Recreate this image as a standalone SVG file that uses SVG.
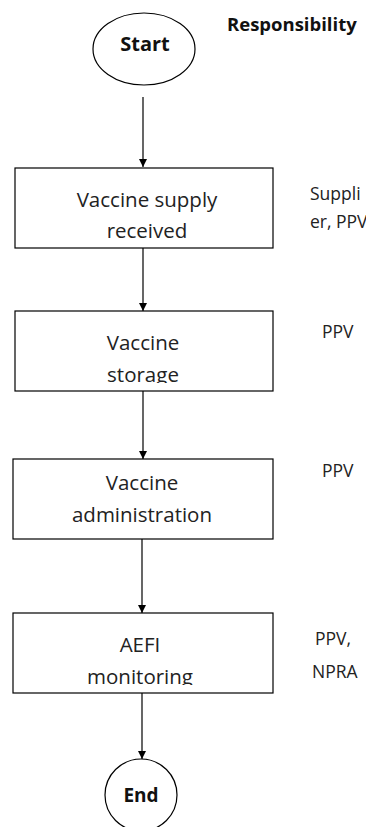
<svg xmlns="http://www.w3.org/2000/svg" width="366" height="827" viewBox="0 0 366 827">
<style>
.shape{fill:#fff;stroke:#000;stroke-width:1.2}
.lbl{font-family:"Open Sans","Liberation Sans",Arial,sans-serif;font-size:20.5px;fill:#222;text-anchor:middle}
.bold{font-family:"Open Sans","Liberation Sans",Arial,sans-serif;font-weight:bold;fill:#111}
.resp{font-family:"Open Sans","Liberation Sans",Arial,sans-serif;font-size:17.5px;fill:#222}
.conn{stroke:#000;stroke-width:1.2;fill:none;marker-end:url(#arr)}
</style>
<defs>
<marker id="arr" viewBox="0 0 10 10" refX="10" refY="5" markerWidth="8" markerHeight="8" markerUnits="userSpaceOnUse" orient="auto">
<path d="M0,0 L10,5 L0,10 Z" fill="#000"/>
</marker>
<clipPath id="c2"><rect x="15" y="311" width="258" height="72"/></clipPath>
<clipPath id="c4"><rect x="13" y="613" width="260" height="72"/></clipPath>
</defs>
<rect width="366" height="827" fill="#fff"/>
<g id="connectors">
<line class="conn" x1="143" y1="97" x2="143" y2="167"/>
<line class="conn" x1="143" y1="248" x2="143" y2="311"/>
<line class="conn" x1="143" y1="391" x2="143" y2="459"/>
<line class="conn" x1="142" y1="539" x2="142" y2="613"/>
<line class="conn" x1="142" y1="693" x2="142" y2="759"/>
</g>
<g id="start">
<ellipse class="shape" cx="144" cy="49" rx="51" ry="36"/>
<text class="bold" x="145" y="51" font-size="20" text-anchor="middle">Start</text>
</g>
<g id="responsibility">
<text class="bold" x="227" y="31" font-size="18.5">Responsibility</text>
</g>
<g id="supply">
<rect class="shape" x="15" y="168" width="258" height="80"/>
<text class="lbl" x="147" y="207">Vaccine supply</text>
<text class="lbl" x="147" y="238">received</text>
<text class="resp" x="310" y="200">Suppli</text>
<text class="resp" x="310" y="228">er, PPV</text>
</g>
<g id="storage">
<rect class="shape" x="15" y="311" width="258" height="80"/>
<g clip-path="url(#c2)">
<text class="lbl" x="143" y="350">Vaccine</text>
<text class="lbl" x="143" y="382">storage</text>
</g>
<text class="resp" x="322" y="338">PPV</text>
</g>
<g id="administration">
<rect class="shape" x="13" y="459" width="260" height="80"/>
<text class="lbl" x="142" y="490">Vaccine</text>
<text class="lbl" x="142" y="522">administration</text>
<text class="resp" x="322" y="477">PPV</text>
</g>
<g id="aefi">
<rect class="shape" x="13" y="613" width="260" height="80"/>
<g clip-path="url(#c4)">
<text class="lbl" x="140" y="652">AEFI</text>
<text class="lbl" x="140" y="684">monitoring</text>
</g>
<text class="resp" x="315" y="645">PPV,</text>
<text class="resp" x="312" y="678">NPRA</text>
</g>
<g id="end">
<ellipse class="shape" cx="141" cy="795" rx="36" ry="36"/>
<text class="bold" x="141" y="802" font-size="19" text-anchor="middle">End</text>
</g>
</svg>
